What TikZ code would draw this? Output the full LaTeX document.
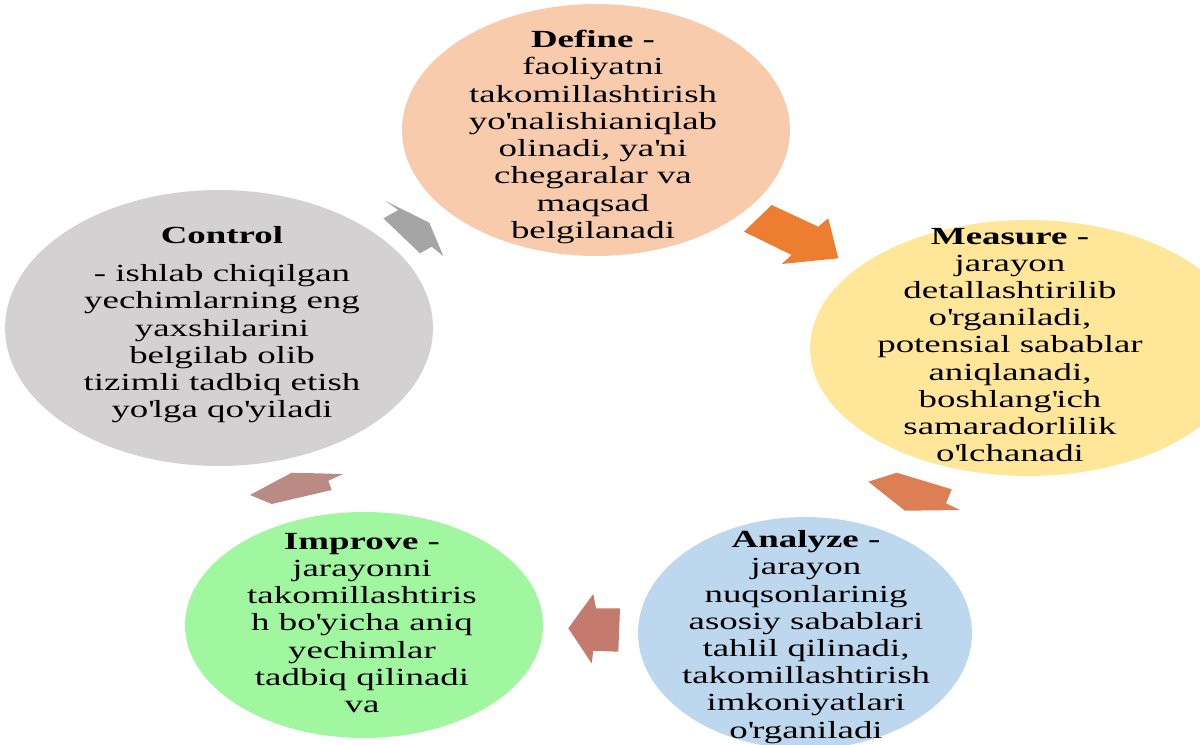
\documentclass[tikz,border=0pt]{standalone}
\usepackage{fontspec}
\setmainfont{Liberation Serif}[FakeStretch=1.5]
\usepackage{tikz}
\usetikzlibrary{shapes.geometric}

\definecolor{definefill}{HTML}{F8CBAD}
\definecolor{measurefill}{HTML}{FFE699}
\definecolor{analyzefill}{HTML}{BDD7EE}
\definecolor{improvefill}{HTML}{A0F7A0}
\definecolor{controlfill}{HTML}{D3D1D1}
\definecolor{arrowone}{HTML}{ED7D31}
\definecolor{arrowtwo}{HTML}{DC7F55}
\definecolor{arrowthree}{HTML}{C47A6C}
\definecolor{arrowfour}{HTML}{BA8A84}
\definecolor{arrowfive}{HTML}{A5A5A5}

\newcommand{\ap}{\textquotesingle}

\tikzset{
  blob/.style={ellipse, draw=none, inner sep=0pt},
  txt/.style={align=center, inner sep=0pt, font=\fontsize{14}{15.5}\selectfont},
}

\begin{document}
\begin{tikzpicture}[x=0.02cm, y=-0.02cm]
\useasboundingbox (0,0) rectangle (1200,744);
\clip (0,0) rectangle (1200,744);

% ellipses
\node[blob, fill=definefill, minimum width=7.76cm, minimum height=5.04cm] (define) at (596,130) {};
\node[blob, fill=measurefill, minimum width=8.72cm, minimum height=5.12cm] (measure) at (1028,348) {};
\node[blob, fill=analyzefill, minimum width=6.68cm, minimum height=4.64cm] (analyze) at (805,633) {};
\node[blob, fill=improvefill, minimum width=7.16cm, minimum height=4.52cm] (improve) at (364,625) {};
\node[blob, fill=controlfill, minimum width=8.56cm, minimum height=5.52cm] (control) at (219,328) {};

% texts
\node[txt] (definetxt) at (593,137) {\textbf{Define -}\\ faoliyatni\\ takomillashtirish\\ yo\ap nalishianiqlab\\ olinadi, ya\ap ni\\ chegaralar va\\ maqsad\\ belgilanadi};
\node[txt] (measuretxt) at (1010,345) {\textbf{Measure -}\\ jarayon\\ detallashtirilib\\ o\ap rganiladi,\\ potensial sabablar\\ aniqlanadi,\\ boshlang\ap ich\\ samaradorlilik\\ o\ap lchanadi};
\node[txt] (analyzetxt) at (806,637) {\textbf{Analyze -}\\ jarayon\\ nuqsonlarinig\\ asosiy sabablari\\ tahlil qilinadi,\\ takomillashtirish\\ imkoniyatlari\\ o\ap rganiladi};
\node[txt] (improvetxt) at (362,623) {\textbf{Improve -}\\ jarayonni\\ takomillashtiris\\ h bo\ap yicha aniq\\ yechimlar\\ tadbiq qilinadi\\ va};
\node[txt] (controltxt) at (222,325) {\textbf{Control}\\[6pt] - ishlab chiqilgan\\ yechimlarning eng\\ yaxshilarini\\ belgilab olib\\ tizimli tadbiq etish\\ yo\ap lga qo\ap yiladi};

% block arrows
\fill[arrowone] (771.7,205) -- (818.3,226.7) -- (828.3,218.3) -- (838.3,258.3) -- (781.7,264) -- (791.7,255) -- (744,231.7) -- cycle;
\fill[arrowtwo] (868.3,481.7) -- (896.7,472.7) -- (951.7,489.3) -- (946,503.3) -- (960,510) -- (905,510.7) -- cycle;
\fill[arrowthree] (568.3,628.3) -- (593.3,594) -- (596,608.3) -- (620,608.3) -- (618.3,651.7) -- (593.3,650.7) -- (591.7,663.3) -- cycle;
\fill[arrowfour] (250,495) -- (291.7,472.7) -- (343.3,474) -- (328.3,480.7) -- (331.7,490) -- (271.7,504) -- cycle;
\fill[arrowfive] (385,200.7) -- (429.3,222.7) -- (443.3,256) -- (431.7,246.7) -- (420,253.3) -- (383.3,218.3) -- (398.3,210) -- cycle;

\end{tikzpicture}
\end{document}
